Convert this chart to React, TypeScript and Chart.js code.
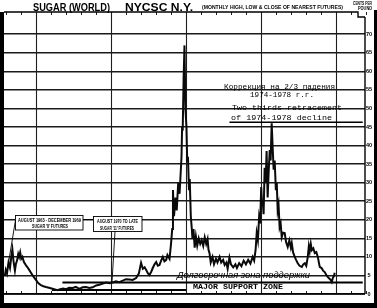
import React, { useEffect, useRef } from 'react';
import { Chart, registerables } from 'chart.js';

Chart.register(...registerables);

// ---- data ----
const years = [1963,1964,1965,1966,1967,1968,1969,1970,1971,1972,1973,1974,1975,1976,1977,1978,1979,1980,1981,1982,1983,1984,1985,1986];
const yearLabels = ['63','64','1965','66','67','68','69','1970','71','72','73','74','1975','76','77','78','79','1980','81','82','83','84','1985','86'];
const gridYears = [1965,1970,1975,1980,1985];
const yTicks = [0,5,10,15,20,25,30,35,40,45,50,55,60,65,70];

const priceDates = [
  1962.9,1962.97,1963.05,1963.15,1963.25,1963.35,1963.41,1963.48,1963.58,1963.64,1963.72,1963.8,1963.86,1963.93,
  1964.0,1964.08,1964.18,1964.31,1964.42,1964.53,1964.64,1964.75,1964.87,1964.98,
  1965.15,1965.31,1965.48,1965.65,1965.85,1966.09,1966.25,1966.42,1966.6,1966.8,1966.99,
  1967.2,1967.43,1967.65,1967.88,1968.1,1968.32,1968.55,1968.77,1969.0,1969.21,1969.45,1969.66,1969.9,
  1970.1,1970.33,1970.55,1970.78,1970.99,1971.2,1971.44,1971.67,1971.85,
  1972.0,1972.12,1972.24,1972.34,1972.45,1972.56,1972.68,1972.78,1972.9,
  1973.01,1973.12,1973.23,1973.34,1973.45,1973.56,1973.68,1973.76,1973.9,
  1974.0,1974.08,1974.13,1974.2,1974.3,1974.38,1974.48,1974.57,1974.65,1974.7,1974.74,1974.78,1974.84,1974.9,1974.96,
  1975.03,1975.08,1975.13,1975.2,1975.25,1975.32,1975.38,1975.43,1975.5,1975.58,1975.66,1975.75,1975.85,1975.95,
  1976.05,1976.15,1976.25,1976.35,1976.44,1976.5,1976.57,1976.65,1976.77,1976.87,
  1977.0,1977.1,1977.24,1977.35,1977.48,1977.58,1977.7,1977.78,1977.9,
  1978.0,1978.15,1978.3,1978.4,1978.55,1978.7,1978.85,
  1979.0,1979.15,1979.3,1979.45,1979.55,1979.65,1979.72,1979.8,1979.88,1979.95,
  1980.02,1980.08,1980.12,1980.18,1980.25,1980.32,1980.38,1980.45,1980.52,1980.59,1980.65,1980.72,1980.78,1980.85,1980.92,
  1981.0,1981.06,1981.12,1981.18,1981.25,1981.32,1981.39,1981.48,1981.59,1981.68,1981.79,1981.9,
  1982.0,1982.06,1982.15,1982.26,1982.35,1982.46,1982.58,1982.73,1982.83,1982.93,
  1983.03,1983.13,1983.2,1983.26,1983.33,1983.4,1983.5,1983.6,1983.7,1983.8,1983.87,1983.93,
  1984.05,1984.15,1984.26,1984.36,1984.46,1984.56,1984.65,1984.73,1984.8,1984.88,1984.93
];
const priceValues = [
  4.8,6.5,5.5,8.5,7.0,10.5,12.0,9.0,6.3,8.0,9.0,10.8,10.0,11.2,
  9.5,10.0,8.6,7.8,7.2,6.5,5.8,5.1,4.4,3.8,
  2.9,2.4,2.1,1.9,1.7,1.4,1.2,1.0,1.3,1.5,1.3,
  1.7,1.6,1.9,1.4,1.8,1.9,1.6,1.8,2.3,2.5,2.8,3.1,2.9,
  3.1,3.4,3.2,3.6,4.0,3.9,3.8,4.3,5.5,
  8.4,6.8,7.2,6.5,5.6,5.1,6.0,7.0,8.0,
  8.6,7.6,7.8,9.0,10.0,8.8,9.2,10.5,9.5,
  13.5,17.5,28,21,26,22.5,30,27,33,37,45,44,58,67,50,
  45,36,37,28,31,21,18,15,17.5,12.5,15.5,13,15,13.5,
  14.5,13,15.3,13.5,14.8,12,11,8.5,10,8,
  9.5,8.5,10,8.5,9.2,7.8,8.5,6.8,9.8,
  8,7.2,8.0,7.0,8.3,7.5,9.0,
  8.0,9.2,8.2,10,9.0,12,16.4,14.5,20.7,19,
  28.8,24,25.3,21.5,34,30,38.5,26,33,38.8,36,46,40,33.5,36,
  28,30,22.6,24,18,19,15.3,16.5,16.4,14,12.7,14.5,
  12.5,13.7,11.2,10,9.2,8.3,7.6,7.3,8.0,8.3,
  7.6,10,12.9,11.5,13.5,11.8,12.3,11,11.3,10,8.5,7.3,
  7.0,6.3,5.9,5.2,4.6,4.2,3.8,3.2,4.3,4.9,5.7
];

const retracementLevel = 46.3;
const retracementSpan = [1977.9, 1986.8];
const supportUpperLevel = 3.1;
const supportUpperSpan = [1966.75, 1986.8];
const supportLowerLevel = 1.1;
const supportLowerSpan = [1966.05, 1975.0];

function fitText(ctx: CanvasRenderingContext2D, text: string, x: number, y: number, w: number, font: string) {
  ctx.save();
  ctx.font = font;
  const m = ctx.measureText(text).width;
  ctx.translate(x, y);
  ctx.scale(w / m, 1);
  ctx.textAlign = 'left';
  ctx.textBaseline = 'alphabetic';
  ctx.fillText(text, 0, 0);
  ctx.restore();
}

function seg(ctx: CanvasRenderingContext2D, x1: number, y1: number, x2: number, y2: number) {
  ctx.beginPath();
  ctx.moveTo(x1, y1);
  ctx.lineTo(x2, y2);
  ctx.stroke();
}

const decor = {
  id: 'decor',
  beforeDatasetsDraw(chart: any) {
    const { ctx, chartArea: a, scales } = chart;
    const x = scales.x;
    ctx.save();
    ctx.strokeStyle = '#1e1e1e';
    ctx.lineWidth = 1.1;
    gridYears.forEach((yr) => {
      const px = Math.round(x.getPixelForValue(yr)) + 0.5;
      seg(ctx, px, a.top, px, a.bottom);
    });
    ctx.lineWidth = 1;
    for (let i = 0; i <= years.length; i++) {
      const yr = years[0] + i;
      const px = Math.round(x.getPixelForValue(yr)) + 0.5;
      seg(ctx, px, a.bottom - 3, px, a.bottom);
      seg(ctx, px, a.top, px, a.top + 3);
    }
    ctx.restore();
  },
  afterDraw(chart: any) {
    const { ctx, chartArea: a } = chart;
    ctx.save();
    ctx.fillStyle = '#000';
    ctx.strokeStyle = '#000';
    // plot border
    ctx.lineWidth = 1.4;
    ctx.beginPath();
    ctx.moveTo(4, a.top);
    ctx.lineTo(358, a.top);
    ctx.lineTo(358, a.top + 5);
    ctx.lineTo(a.right, a.top + 5);
    ctx.stroke();
    seg(ctx, a.right, a.top + 5, a.right, a.bottom);
    seg(ctx, 4, a.bottom, a.right, a.bottom);
    // outer frame
    ctx.fillRect(0, 12, 4, 295);
    ctx.fillRect(0, 303, 377, 5);
    ctx.fillRect(374, 10, 3, 298);

    // titles
    fitText(ctx, 'SUGAR (WORLD)', 33, 10.5, 77, 'bold 10.5px "Liberation Sans", Arial, sans-serif');
    fitText(ctx, 'NYCSC N.Y.', 125, 10.5, 68, 'bold 10.5px "Liberation Sans", Arial, sans-serif');
    fitText(ctx, '(MONTHLY HIGH, LOW & CLOSE OF NEAREST FUTURES)', 202, 8.5, 141, 'bold 6px "Liberation Sans", Arial, sans-serif');
    fitText(ctx, 'CENTS PER', 353, 5, 19, 'bold 4.5px "Liberation Sans", Arial, sans-serif');
    fitText(ctx, 'POUND', 358, 10, 14, 'bold 4.5px "Liberation Sans", Arial, sans-serif');

    // retracement annotation
    fitText(ctx, 'Коррекция на 2/3 падения', 224, 89, 111, '8px "Liberation Mono", monospace');
    fitText(ctx, '1974-1978 г.г.', 250, 97, 64, '8px "Liberation Mono", monospace');
    fitText(ctx, 'Two-thirds retracement', 232, 110, 110, '8px "Liberation Mono", monospace');
    fitText(ctx, 'of 1974-1978 decline', 231, 120, 101, '8px "Liberation Mono", monospace');

    // support annotation
    fitText(ctx, 'Долгосрочная зона поддержки', 177, 278, 133, 'italic 9px "Liberation Sans", Arial, sans-serif');
    fitText(ctx, 'MAJOR SUPPORT ZONE', 193, 288.5, 90, 'bold 7px "Liberation Mono", monospace');

    // contract boxes
    ctx.lineWidth = 0.9;
    ctx.fillStyle = '#fff';
    ctx.fillRect(15, 215.5, 68, 14.5);
    ctx.strokeRect(15.5, 215.5, 67.5, 14.5);
    ctx.fillRect(93, 216.5, 49, 15);
    ctx.strokeRect(93.5, 216.5, 48.5, 15);
    ctx.fillStyle = '#000';
    fitText(ctx, 'AUGUST 1963 - DECEMBER 1969', 18, 221.5, 63, 'bold 5px "Liberation Sans", Arial, sans-serif');
    fitText(ctx, "SUGAR '8' FUTURES", 32, 228.3, 36, 'bold 5px "Liberation Sans", Arial, sans-serif');
    fitText(ctx, 'AUGUST 1970 TO LATE', 97, 223, 41, 'bold 5px "Liberation Sans", Arial, sans-serif');
    fitText(ctx, "SUGAR '11' FUTURES", 100, 229.5, 34, 'bold 5px "Liberation Sans", Arial, sans-serif');
    seg(ctx, 83, 219.5, 93, 219.5);
    seg(ctx, 15.5, 220, 7, 272);
    seg(ctx, 115, 231.5, 112, 282);
    ctx.restore();
  },
};

export default function App() {
  const ref = useRef<HTMLCanvasElement | null>(null);
  useEffect(() => {
    if (!ref.current) return;
    const price = priceDates.map((t, i) => ({ x: t, y: priceValues[i] }));
    const chart = new Chart(ref.current, {
      type: 'line',
      data: {
        datasets: [
          {
            label: 'Sugar',
            data: price,
            borderColor: '#0a0a0a',
            borderWidth: 2,
            pointRadius: 0,
            tension: 0,
          },
          {
            label: 'Retracement',
            data: retracementSpan.map((t) => ({ x: t, y: retracementLevel })),
            borderColor: '#000',
            borderWidth: 1.6,
            pointRadius: 0,
          },
          {
            label: 'Support upper',
            data: supportUpperSpan.map((t) => ({ x: t, y: supportUpperLevel })),
            borderColor: '#000',
            borderWidth: 2,
            pointRadius: 0,
          },
          {
            label: 'Support lower',
            data: supportLowerSpan.map((t) => ({ x: t, y: supportLowerLevel })),
            borderColor: '#000',
            borderWidth: 2,
            pointRadius: 0,
          },
        ],
      },
      options: {
        responsive: false,
        animation: false,
        devicePixelRatio: 1,
        layout: { padding: { left: 4, top: 12, right: 3, bottom: 4 } },
        plugins: { legend: { display: false }, tooltip: { enabled: false } },
        scales: {
          x: {
            type: 'linear',
            min: 1962.85,
            max: 1986.95,
            grid: { display: false },
            border: { display: false },
            afterBuildTicks: (scale: any) => {
              scale.ticks = years.map((y) => ({ value: y + 0.5 }));
            },
            afterFit: (scale: any) => {
              scale.height = 10;
            },
            ticks: {
              autoSkip: false,
              maxRotation: 0,
              padding: 1,
              color: '#000',
              font: { size: 6, weight: 'bold', family: '"Liberation Sans", Arial, sans-serif' },
              callback: (_v: any, i: number) => yearLabels[i],
            },
          },
          y: {
            position: 'right',
            min: 0,
            max: 76,
            afterBuildTicks: (scale: any) => {
              scale.ticks = yTicks.map((v) => ({ value: v }));
            },
            afterFit: (scale: any) => {
              scale.width = 9;
            },
            grid: { color: '#1a1a1a', lineWidth: 1.6, drawTicks: false },
            border: { display: false },
            ticks: {
              padding: 1,
              color: '#000',
              crossAlign: 'center',
              font: { size: 5.5, weight: 'bold', family: '"Liberation Sans", Arial, sans-serif' },
            },
          },
        },
      },
      plugins: [decor],
    } as any);
    return () => chart.destroy();
  }, []);
  return (
    <div style={{ position: 'absolute', left: 0, top: 0, width: 377, height: 308, background: '#fff' }}>
      <canvas ref={ref} width={377} height={308} style={{ display: 'block' }} />
    </div>
  );
}
